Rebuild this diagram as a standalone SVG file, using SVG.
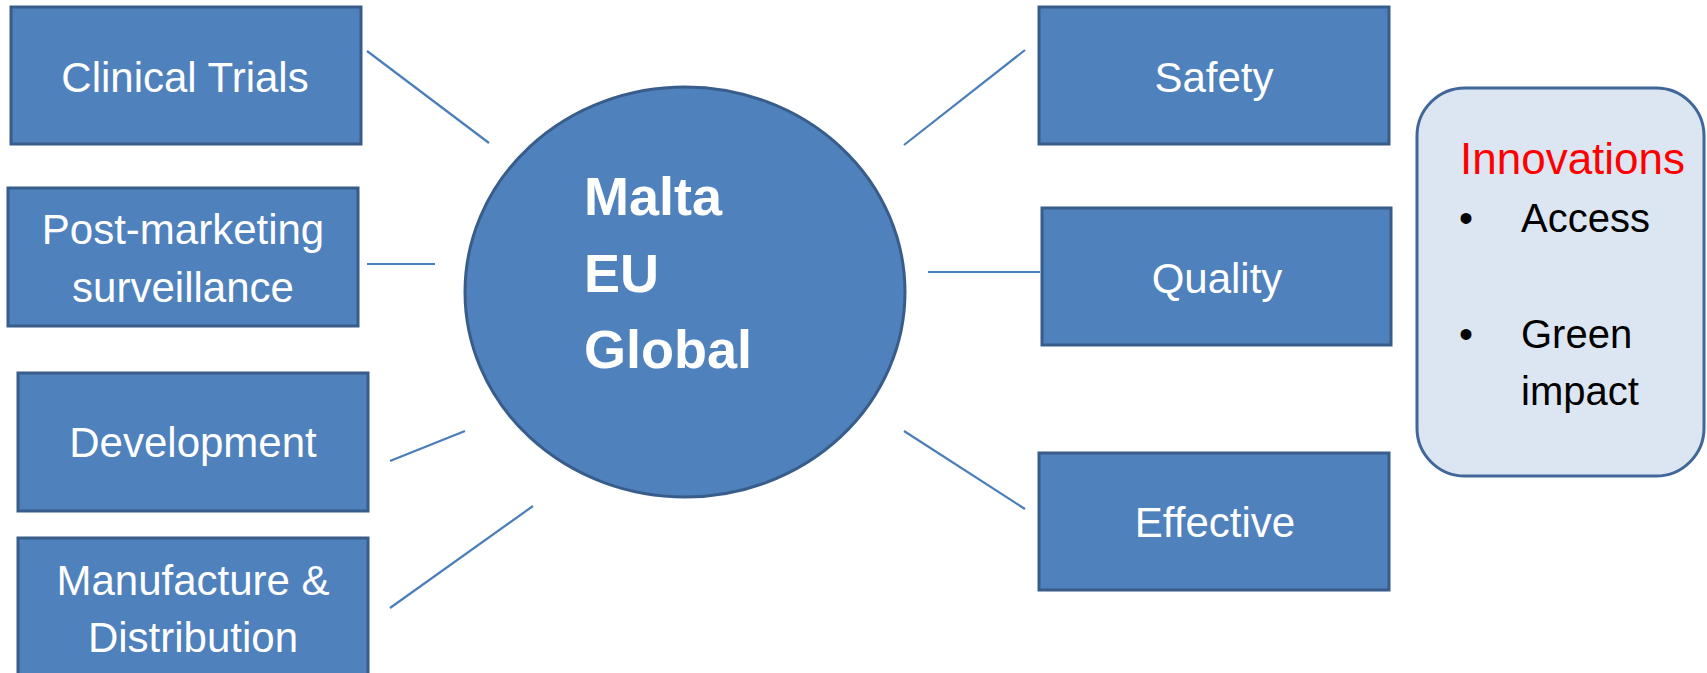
<svg xmlns="http://www.w3.org/2000/svg" width="1707" height="673" viewBox="0 0 1707 673">
<style>
.box{fill:#4f81bd;stroke:#385d8a;stroke-width:3}
.t{font-family:"Liberation Sans",Arial,sans-serif;font-size:42px;fill:#ffffff;text-anchor:middle}
.c{stroke:#4a7ebb;stroke-width:2.2;fill:none}
.k{font-family:"Liberation Sans",Arial,sans-serif;font-size:40px;fill:#000000}
</style>
<rect width="1707" height="673" fill="#ffffff"/>
<g id="connectors">
<line class="c" x1="367" y1="51" x2="489" y2="143"/>
<line class="c" x1="367" y1="264" x2="435" y2="264"/>
<line class="c" x1="390" y1="461" x2="465" y2="431"/>
<line class="c" x1="390" y1="608" x2="533" y2="506"/>
<line class="c" x1="904" y1="145" x2="1025" y2="50"/>
<line class="c" x1="928" y1="272" x2="1040" y2="272"/>
<line class="c" x1="904" y1="431" x2="1025" y2="509"/>
</g>
<g id="clinical-trials">
<rect class="box" x="11" y="7" width="350" height="137"/>
<text class="t" x="185" y="92">Clinical Trials</text>
</g>
<g id="post-marketing">
<rect class="box" x="8" y="188" width="350" height="138"/>
<text class="t" x="183" y="244" font-size="43">Post-marketing</text>
<text class="t" x="183" y="302" font-size="43">surveillance</text>
</g>
<g id="development">
<rect class="box" x="18" y="373" width="350" height="138"/>
<text class="t" x="193" y="457">Development</text>
</g>
<g id="manufacture">
<rect class="box" x="18" y="538" width="350" height="145"/>
<text class="t" x="193" y="595">Manufacture &amp;</text>
<text class="t" x="193" y="652">Distribution</text>
</g>
<g id="center">
<ellipse cx="685" cy="292" rx="220" ry="205" fill="#4f81bd" stroke="#385d8a" stroke-width="3"/>
<text font-family="'Liberation Sans',Arial,sans-serif" font-size="54" font-weight="bold" fill="#ffffff">
<tspan x="584" y="215">Malta</tspan>
<tspan x="584" y="292">EU</tspan>
<tspan x="584" y="368">Global</tspan>
</text>
</g>
<g id="safety">
<rect class="box" x="1039" y="7" width="350" height="137"/>
<text class="t" x="1214" y="92">Safety</text>
</g>
<g id="quality">
<rect class="box" x="1042" y="208" width="349" height="137"/>
<text class="t" x="1217" y="293">Quality</text>
</g>
<g id="effective">
<rect class="box" x="1039" y="453" width="350" height="137"/>
<text class="t" x="1215" y="537">Effective</text>
</g>
<g id="innovations">
<rect x="1417" y="88" width="287" height="388" rx="48" ry="48" fill="#dce6f2" stroke="#41679a" stroke-width="3"/>
<text x="1460" y="174" font-family="'Liberation Sans',Arial,sans-serif" font-size="44" fill="#ff0000">Innovations</text>
<text class="k" x="1459" y="232">•</text>
<text class="k" x="1521" y="232">Access</text>
<text class="k" x="1459" y="348">•</text>
<text class="k" x="1521" y="348">Green</text>
<text class="k" x="1521" y="405">impact</text>
</g>
</svg>
